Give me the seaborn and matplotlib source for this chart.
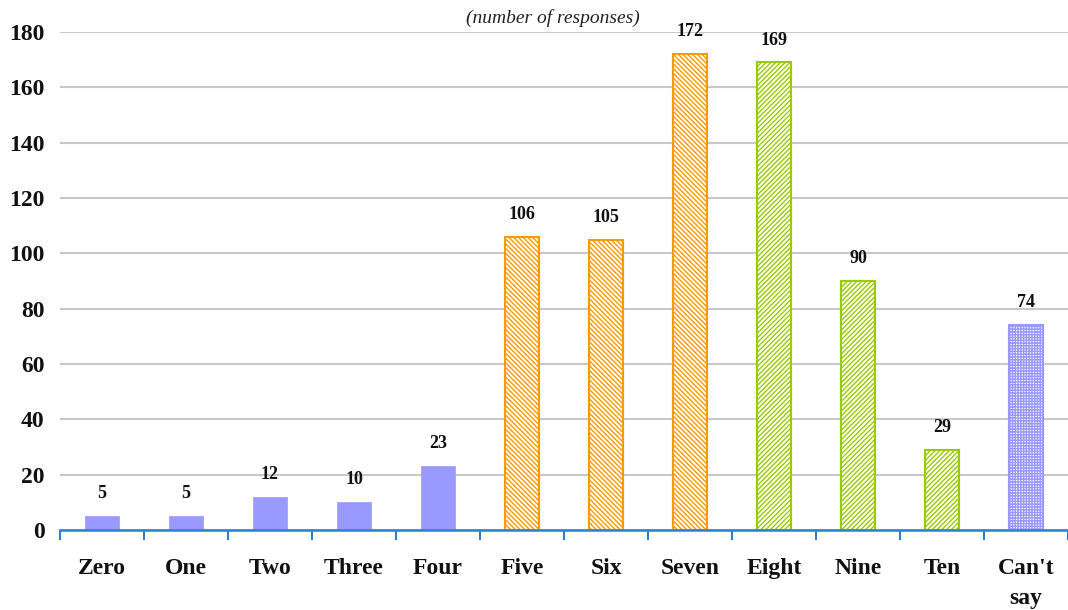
import matplotlib
matplotlib.use("Agg")
import matplotlib.pyplot as plt
import seaborn as sns
import pandas as pd

categories = ["Zero", "One", "Two", "Three", "Four", "Five", "Six",
              "Seven", "Eight", "Nine", "Ten", "Can't\nsay"]
responses = [5, 5, 12, 10, 23, 106, 105, 172, 169, 90, 29, 74]
groups = ["low"] * 5 + ["mid"] * 3 + ["high"] * 3 + ["unsure"]
y_ticks = [0, 20, 40, 60, 80, 100, 120, 140, 160, 180]

BLUE = "#9999FF"
ORANGE = "#FF9900"
GREEN = "#99CC00"
AXIS_BLUE = "#2F7FD3"

styles = {
    "low": dict(face=BLUE, edge=BLUE, hatch=None),
    "mid": dict(face="white", edge=ORANGE, hatch="\\\\\\\\\\\\\\"),
    "high": dict(face="white", edge=GREEN, hatch="///////"),
    "unsure": dict(face="white", edge=BLUE, hatch="++++++"),
}

sns.set_theme(style="white")
plt.rcParams["font.family"] = ["Liberation Serif", "DejaVu Serif"]
plt.rcParams["hatch.linewidth"] = 1.0

df = pd.DataFrame({"category": categories, "responses": responses, "group": groups})

fig = plt.figure(figsize=(10.68, 6.10), dpi=100)
ax = fig.add_axes([60 / 1068, 1 - 530 / 610, 1 - 60 / 1068, (530 - 32) / 610])

sns.barplot(data=df, x="category", y="responses", order=categories,
            color=BLUE, width=0.41, ax=ax, saturation=1)

for patch, g in zip(ax.patches, groups):
    st = styles[g]
    patch.set_facecolor(st["face"])
    patch.set_edgecolor(st["edge"])
    patch.set_linewidth(1.5 if st["hatch"] else 0.5)
    if st["hatch"]:
        patch.set_hatch(st["hatch"])

for i, v in enumerate(responses):
    ax.annotate(f"{v}", (i, v), xytext=(0, 10), textcoords="offset points",
                ha="center", va="bottom", fontsize=13, fontweight="bold",
                color="#111111")

ax.set_ylim(0, 180)
ax.set_xlim(-0.5, len(categories) - 0.5)
ax.set_yticks(y_ticks)
ax.yaxis.grid(True, color="#C8C8C8", linewidth=1.5)
ax.set_axisbelow(True)

ax.set_xticks(range(len(categories)))
ax.set_xticklabels(categories, fontsize=17, fontweight="bold", color="#111111",
                   linespacing=1.6, va="top")
ax.tick_params(axis="x", which="major", length=0, pad=20)
ax.set_xticks([i - 0.5 for i in range(len(categories) + 1)], minor=True)
ax.tick_params(axis="x", which="minor", bottom=True, length=7, width=1.5,
               color=AXIS_BLUE, direction="out")
ax.tick_params(axis="y", length=0, labelsize=17, pad=11)
for lbl in ax.get_yticklabels():
    lbl.set_fontweight("bold")
    lbl.set_color("#111111")

for side in ["top", "right", "left"]:
    ax.spines[side].set_visible(False)
ax.spines["bottom"].set_color(AXIS_BLUE)
ax.spines["bottom"].set_linewidth(1.8)

ax.set_xlabel("")
ax.set_ylabel("")

fig.text(553 / 1068, 1 - 18 / 610, "(number of responses)", ha="center",
         va="center", fontsize=14, fontstyle="italic", color="#222222")

fig.savefig("out.png", dpi=100)
